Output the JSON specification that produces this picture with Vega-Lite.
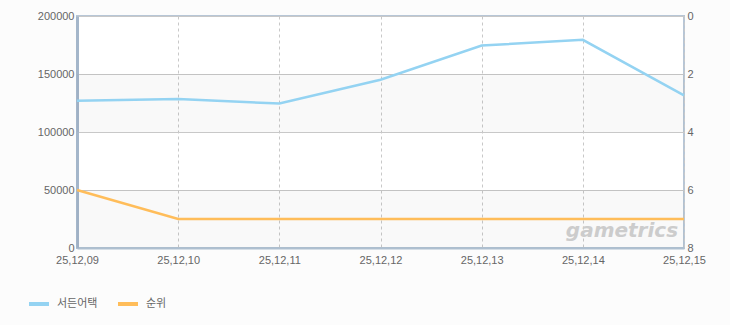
{
  "$schema": "https://vega.github.io/schema/vega-lite/v6.json",
  "width": 607,
  "height": 232,
  "autosize": {"type": "none"},
  "padding": {"left": 77, "top": 16, "right": 46, "bottom": 77},
  "background": "#fcfcfc",
  "config": {
    "font": "Noto Sans CJK KR",
    "view": {"fill": "white", "stroke": "#b7c6d6", "strokeWidth": 2},
    "axis": {"labelFont": "Liberation Sans", "labelFontSize": 11, "labelColor": "#666666", "ticks": false, "domain": false}
  },
  "datasets": {
    "main": [
      {"date": "25,12,09", "series": "서든어택", "value": 127000},
      {"date": "25,12,10", "series": "서든어택", "value": 128500},
      {"date": "25,12,11", "series": "서든어택", "value": 124500},
      {"date": "25,12,12", "series": "서든어택", "value": 145000},
      {"date": "25,12,13", "series": "서든어택", "value": 174500},
      {"date": "25,12,14", "series": "서든어택", "value": 179500},
      {"date": "25,12,15", "series": "서든어택", "value": 131500},
      {"date": "25,12,09", "series": "순위", "value": 6},
      {"date": "25,12,10", "series": "순위", "value": 7},
      {"date": "25,12,11", "series": "순위", "value": 7},
      {"date": "25,12,12", "series": "순위", "value": 7},
      {"date": "25,12,13", "series": "순위", "value": 7},
      {"date": "25,12,14", "series": "순위", "value": 7},
      {"date": "25,12,15", "series": "순위", "value": 7}
    ],
    "bands": [
      {"lo": 0, "hi": 50000},
      {"lo": 100000, "hi": 150000}
    ],
    "mark": [
      {"date": "25,12,14", "value": 9500, "text": "gametrics"}
    ]
  },
  "layer": [
    {
      "layer": [
        {
          "data": {"name": "bands"},
          "mark": {"type": "rect", "fill": "#000000", "fillOpacity": 0.022},
          "encoding": {
            "y": {
              "field": "lo", "type": "quantitative", "scale": {"domain": [0, 200000]}, "title": null,
              "axis": {"orient": "left", "values": [0, 50000, 100000, 150000, 200000], "format": "d", "grid": true, "gridColor": "#c8c8c8", "labelPadding": 3, "domain": true, "domainColor": "#a4b6ca", "domainWidth": 3}
            },
            "y2": {"field": "hi"}
          }
        },
        {
          "data": {"name": "mark"},
          "mark": {"type": "text", "font": "DejaVu Sans", "fontStyle": "italic", "fontWeight": "bold", "fontSize": 20, "fill": "#cccccc", "align": "left", "dx": -17, "baseline": "alphabetic"},
          "encoding": {
            "x": {"field": "date", "type": "ordinal", "scale": {"type": "point", "padding": 0, "domain": ["25,12,09", "25,12,10", "25,12,11", "25,12,12", "25,12,13", "25,12,14", "25,12,15"]}, "sort": null, "title": null,
              "axis": {"labelAngle": 0, "labelAlign": "center", "labelBaseline": "top", "grid": true, "gridDash": [3, 3], "gridColor": "#c8c8c8", "labelPadding": 6, "domain": true, "domainColor": "#aebfd0", "domainWidth": 2}},
            "y": {"field": "value", "type": "quantitative", "scale": {"domain": [0, 200000]}, "title": null,
              "axis": {"orient": "left", "values": [0, 50000, 100000, 150000, 200000], "format": "d", "grid": true, "gridColor": "#c8c8c8", "labelPadding": 3, "domain": true, "domainColor": "#a4b6ca", "domainWidth": 3}},
            "text": {"field": "text"}
          }
        },
        {
          "data": {"name": "main"},
          "transform": [{"filter": "datum.series === '서든어택'"}],
          "mark": {"type": "line", "strokeWidth": 2.5},
          "encoding": {
            "x": {
              "field": "date", "type": "ordinal",
              "scale": {"type": "point", "padding": 0, "domain": ["25,12,09", "25,12,10", "25,12,11", "25,12,12", "25,12,13", "25,12,14", "25,12,15"]},
              "sort": null,
              "title": null,
              "axis": {"labelAngle": 0, "labelAlign": "center", "labelBaseline": "top", "grid": true, "gridDash": [3, 3], "gridColor": "#c8c8c8", "labelPadding": 6, "domain": true, "domainColor": "#aebfd0", "domainWidth": 2}
            },
            "y": {
              "field": "value", "type": "quantitative",
              "scale": {"domain": [0, 200000]},
              "title": null,
              "axis": {"orient": "left", "values": [0, 50000, 100000, 150000, 200000], "format": "d", "grid": true, "gridColor": "#c8c8c8", "labelPadding": 3, "domain": true, "domainColor": "#a4b6ca", "domainWidth": 3}
            },
            "color": {
              "field": "series", "type": "nominal",
              "scale": {"domain": ["서든어택", "순위"], "range": ["#94d3f2", "#ffbd5a"]},
              "legend": {
                "title": null, "orient": "none", "direction": "horizontal",
                "legendX": -50, "legendY": 276,
                "symbolType": "stroke", "symbolSize": 400, "symbolStrokeWidth": 4,
                "labelFont": "Noto Sans CJK KR", "labelFontSize": 11, "labelColor": "#666666",
                "columnPadding": 12, "labelOffset": 6
              }
            }
          }
        }
      ]
    },
    {
      "data": {"name": "main"},
      "transform": [{"filter": "datum.series === '순위'"}],
      "mark": {"type": "line", "strokeWidth": 2.5},
      "encoding": {
        "x": {"field": "date", "type": "ordinal", "scale": {"type": "point", "padding": 0, "domain": ["25,12,09", "25,12,10", "25,12,11", "25,12,12", "25,12,13", "25,12,14", "25,12,15"]}, "sort": null},
        "y": {
          "field": "value", "type": "quantitative",
          "scale": {"domain": [0, 8], "reverse": true},
          "title": null,
          "axis": {"orient": "right", "values": [0, 2, 4, 6, 8], "grid": false, "labelPadding": 3}
        },
        "color": {"field": "series", "type": "nominal"}
      }
    }
  ],
  "resolve": {"scale": {"y": "independent"}}
}
